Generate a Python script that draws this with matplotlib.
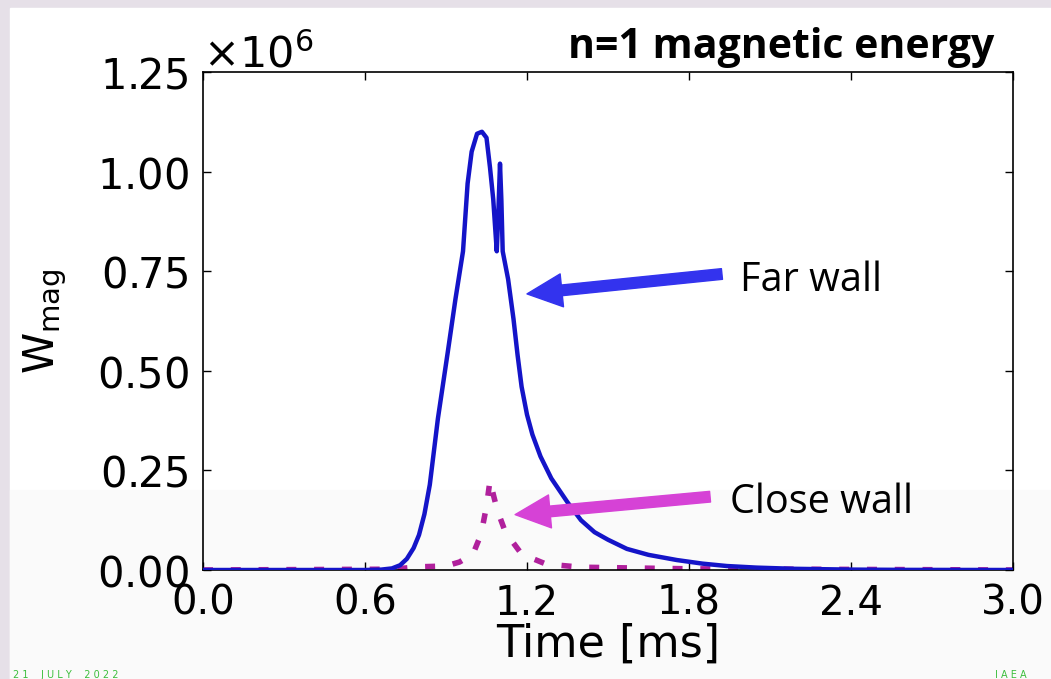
import matplotlib
matplotlib.use("Agg")
import matplotlib.pyplot as plt
from matplotlib.patches import Rectangle
from matplotlib.ticker import ScalarFormatter

# n=1 magnetic energy vs time, far wall (solid) and close wall (dotted)
far_t = [0.0, 0.60, 0.66, 0.70, 0.73, 0.755, 0.78, 0.80, 0.82, 0.84, 0.87,
         0.907, 0.935, 0.963, 0.98, 0.995, 1.015, 1.033, 1.05, 1.063, 1.075,
         1.088, 1.094, 1.10, 1.105, 1.11, 1.13, 1.15, 1.165, 1.18, 1.20, 1.22,
         1.25, 1.29, 1.35, 1.40, 1.45, 1.50, 1.57, 1.65, 1.755, 1.85, 1.94,
         2.05, 2.19, 2.40, 2.60, 3.0]
far_w = [0.0, 0.0, 0.001, 0.004, 0.012, 0.028, 0.055, 0.088, 0.14, 0.214, 0.38,
         0.549, 0.68, 0.80, 0.97, 1.05, 1.095, 1.10, 1.085, 1.01, 0.93,
         0.80, 0.90, 1.02, 0.93, 0.80, 0.73, 0.63, 0.54, 0.46, 0.39, 0.34,
         0.285, 0.23, 0.17, 0.125, 0.095, 0.076, 0.053, 0.038, 0.025, 0.016, 0.01,
         0.006, 0.003, 0.001, 0.0003, 0.0]

close_t = [0.0, 0.70, 0.80, 0.90, 0.95, 1.0, 1.03, 1.05, 1.063, 1.075, 1.09,
           1.12, 1.18, 1.27, 1.40, 1.80, 3.0]
close_w = [0.0, 0.002, 0.008, 0.010, 0.020, 0.040, 0.090, 0.160, 0.225, 0.190, 0.150,
           0.095, 0.040, 0.015, 0.007, 0.003, 0.0]

x_ticks = [0.0, 0.6, 1.2, 1.8, 2.4, 3.0]
y_ticks = [0.0, 0.25, 0.5, 0.75, 1.0, 1.25]

FAR_COL = "#1414c8"
CLOSE_COL = "#b0209c"
FAR_ARROW = "#3333ee"
CLOSE_ARROW = "#d642d6"
FOOT_COL = "#3cbe3c"

plt.rcParams["mathtext.fontset"] = "dejavusans"

W, H = 1051, 679
fig = plt.figure(figsize=(W / 100, H / 100), dpi=100, facecolor="#e6e0e8")
fig.patches.append(Rectangle((10 / W, 0), 1, 1 - 8 / H, transform=fig.transFigure,
                             color="white", zorder=-10))
fig.patches.append(Rectangle((10 / W, 0), 1, (H - 490) / H, transform=fig.transFigure,
                             color="#fafafa", zorder=-9))

ax = fig.add_axes([203 / W, 1 - 570 / H, 810 / W, 498 / H])
ax.set_facecolor("none")

scale = 1e6
ax.plot(close_t, [v * scale for v in close_w], color=CLOSE_COL, lw=4,
        linestyle=(0, (1.8, 3.2)), zorder=2)
ax.plot(far_t, [v * scale for v in far_w], color=FAR_COL, lw=3.2, zorder=3,
        solid_joinstyle="round")

ax.set_xlim(0, 3.0)
ax.set_ylim(0, 1.25e6)
ax.set_xticks(x_ticks)
ax.set_yticks([v * scale for v in y_ticks])

fmt = ScalarFormatter(useMathText=True)
fmt.set_powerlimits((0, 0))
ax.yaxis.set_major_formatter(fmt)
ax.yaxis.get_offset_text().set_fontsize(31)

ax.tick_params(direction="in", length=6, width=1, top=True, right=True, pad=10)
ax.tick_params(axis="x", labelsize=29)
ax.tick_params(axis="y", labelsize=30)
for sp in ax.spines.values():
    sp.set_linewidth(1.2)

ax.set_xlabel("Time [ms]", fontsize=32)
ax.xaxis.set_label_coords(0.5, -0.105)
ax.set_ylabel(r"W$_{\mathrm{mag}}$", fontsize=30)
ax.yaxis.set_label_coords(-0.165, 0.5)

# annotations
arrow_style = "simple,head_length=1.8,head_width=1.7,tail_width=0.55"
ax.annotate("", xy=(1.20, 0.693e6), xytext=(1.922, 0.743e6),
            arrowprops=dict(arrowstyle=arrow_style, color=FAR_ARROW,
                            mutation_scale=14, shrinkA=0, shrinkB=0))
ax.annotate("", xy=(1.156, 0.139e6), xytext=(1.878, 0.184e6),
            arrowprops=dict(arrowstyle=arrow_style, color=CLOSE_ARROW,
                            mutation_scale=14, shrinkA=0, shrinkB=0))
ax.text(1.989, 0.70e6, "Far wall", fontsize=28.5, family="Open Sans", va="baseline")
ax.text(1.952, 0.1436e6, "Close wall", fontsize=28.5, family="Open Sans", va="baseline")

fig.text(568 / W, 1 - 58 / H, "n=1 magnetic energy", fontsize=29.5, fontweight="bold",
         family="Open Sans", va="baseline")

# slide footer along the bottom edge
fig.text(13 / W, 1.5 / H, "2 1    J U L Y    2 0 2 2", fontsize=7, color=FOOT_COL,
         va="baseline")
fig.text(995 / W, 1.5 / H, "I A E A", fontsize=7, color=FOOT_COL, va="baseline")

fig.savefig("out.png", dpi=100, facecolor=fig.get_facecolor())
